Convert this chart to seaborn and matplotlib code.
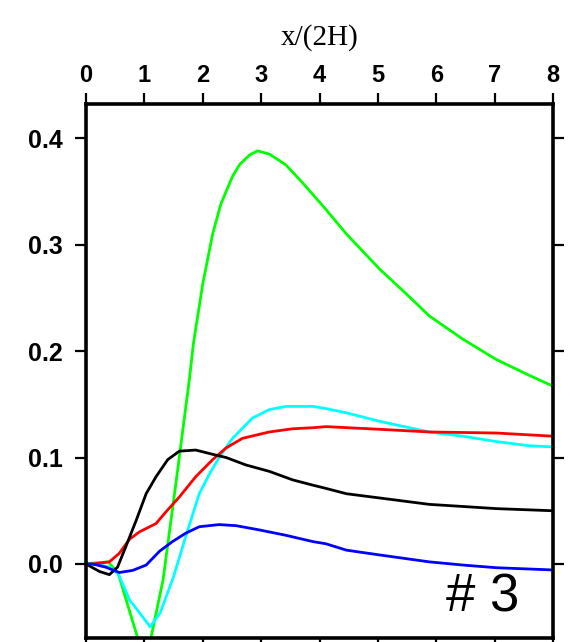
import matplotlib
matplotlib.use("Agg")
import matplotlib.pyplot as plt
import seaborn as sns
import pandas as pd

sns.set_style("white")
plt.rcParams['font.family'] = ['Liberation Sans', 'DejaVu Sans']
plt.rcParams['text.color'] = 'black'
plt.rcParams['xtick.color'] = 'black'
plt.rcParams['ytick.color'] = 'black'
plt.rcParams['axes.labelcolor'] = 'black'

green_x = [0, 0.15, 0.38, 0.55, 0.75, 0.9, 1.0, 1.11, 1.32, 1.55, 1.77, 1.84, 2.0, 2.17, 2.31, 2.51, 2.63, 2.8, 2.94, 3.14, 3.42, 3.71, 4.11, 4.46, 5.03, 5.5, 5.88, 6.46, 7.03, 7.6, 8.0]
green_y = [0, 0.001, 0.002, -0.0085, -0.045, -0.072, -0.085, -0.07, -0.015, 0.08, 0.173, 0.207, 0.263, 0.31, 0.338, 0.364, 0.375, 0.384, 0.388, 0.385, 0.375, 0.358, 0.333, 0.310, 0.277, 0.253, 0.233, 0.211, 0.192, 0.177, 0.167]

cyan_x = [0, 0.2, 0.4, 0.55, 0.75, 0.92, 1.1, 1.27, 1.5, 1.71, 1.94, 2.12, 2.28, 2.51, 2.85, 3.14, 3.42, 3.71, 3.89, 4.11, 4.46, 5.03, 5.88, 6.46, 7.03, 7.6, 8.0]
cyan_y = [0, 0.0, -0.003, -0.009, -0.034, -0.046, -0.059, -0.046, -0.012, 0.026, 0.066, 0.085, 0.100, 0.118, 0.137, 0.145, 0.148, 0.148, 0.148, 0.146, 0.142, 0.134, 0.124, 0.120, 0.115, 0.111, 0.110]

red_x = [0.0, 0.11, 0.4, 0.57, 0.74, 0.91, 1.2, 1.37, 1.6, 1.88, 2.17, 2.4, 2.68, 3.14, 3.54, 3.89, 4.11, 5.03, 5.88, 7.03, 8.0]
red_y = [0.0, 0.0, 0.002, 0.010, 0.023, 0.030, 0.038, 0.049, 0.063, 0.082, 0.098, 0.109, 0.118, 0.124, 0.127, 0.128, 0.129, 0.1265, 0.124, 0.123, 0.120]

black_x = [0, 0.23, 0.4, 0.54, 0.68, 0.86, 1.03, 1.2, 1.4, 1.6, 1.88, 2.17, 2.4, 2.74, 3.14, 3.54, 3.89, 4.11, 4.46, 5.03, 5.88, 6.46, 7.03, 8.0]
black_y = [0, -0.007, -0.010, -0.003, 0.016, 0.041, 0.066, 0.082, 0.098, 0.106, 0.107, 0.103, 0.100, 0.093, 0.087, 0.079, 0.074, 0.071, 0.066, 0.062, 0.056, 0.054, 0.052, 0.050]

blue_x = [0, 0.11, 0.34, 0.57, 0.8, 1.03, 1.26, 1.48, 1.71, 1.94, 2.28, 2.57, 2.97, 3.42, 3.89, 4.11, 4.46, 5.03, 5.88, 6.46, 7.03, 8.0]
blue_y = [0, 0.0, -0.003, -0.008, -0.006, -0.001, 0.012, 0.021, 0.029, 0.035, 0.037, 0.036, 0.032, 0.027, 0.021, 0.019, 0.013, 0.0085, 0.002, -0.001, -0.0035, -0.0056]

x_ticks = [0, 1, 2, 3, 4, 5, 6, 7, 8]
y_ticks = [0.0, 0.1, 0.2, 0.3, 0.4]
y_tick_labels = ["0.0", "0.1", "0.2", "0.3", "0.4"]

series = [
    (green_x, green_y, "#00ff00"),
    (cyan_x, cyan_y, "#00ffff"),
    (red_x, red_y, "#ff0000"),
    (black_x, black_y, "#000000"),
    (blue_x, blue_y, "#0000ff"),
]

fig = plt.figure(figsize=(5.73, 6.42), dpi=100)
ax = fig.add_axes([86/573, 1-638/642, (553-86)/573, (638-104)/642])

for xs, ys, c in series:
    df = pd.DataFrame({"x": xs, "y": ys})
    sns.lineplot(data=df, x="x", y="y", ax=ax, color=c, lw=2.0,
                 estimator=None, sort=False)

ax.set_xlim(0, 8)
ax.set_ylim(-0.0695, 0.432)
ax.xaxis.set_label_position("top")
ax.xaxis.tick_top()
ax.set_xticks(x_ticks)
ax.set_xticklabels([str(t) for t in x_ticks])
ax.set_yticks(y_ticks)
ax.set_yticklabels(y_tick_labels)
ax.set_xlabel("x/(2H)", family=['Liberation Serif', 'DejaVu Serif'], fontsize=21,
              labelpad=14, color='black')
ax.set_ylabel("")

ax.tick_params(axis='both', which='both', direction='out', length=8, width=1.6,
               colors='black', top=True, bottom=True, left=True, right=True,
               labeltop=True, labelbottom=False, labelleft=True, labelright=False)
ax.tick_params(axis='x', labelsize=17, pad=4)
ax.tick_params(axis='y', labelsize=18, pad=9)
for lab in ax.get_xticklabels() + ax.get_yticklabels():
    lab.set_fontweight('bold')
for sp in ax.spines.values():
    sp.set_linewidth(2.6)
    sp.set_color('black')
    sp.set_visible(True)

ax.text(7.42, -0.045, "# 3", fontsize=38, ha='right', va='baseline', color='black')

fig.savefig("out.png", dpi=100)
